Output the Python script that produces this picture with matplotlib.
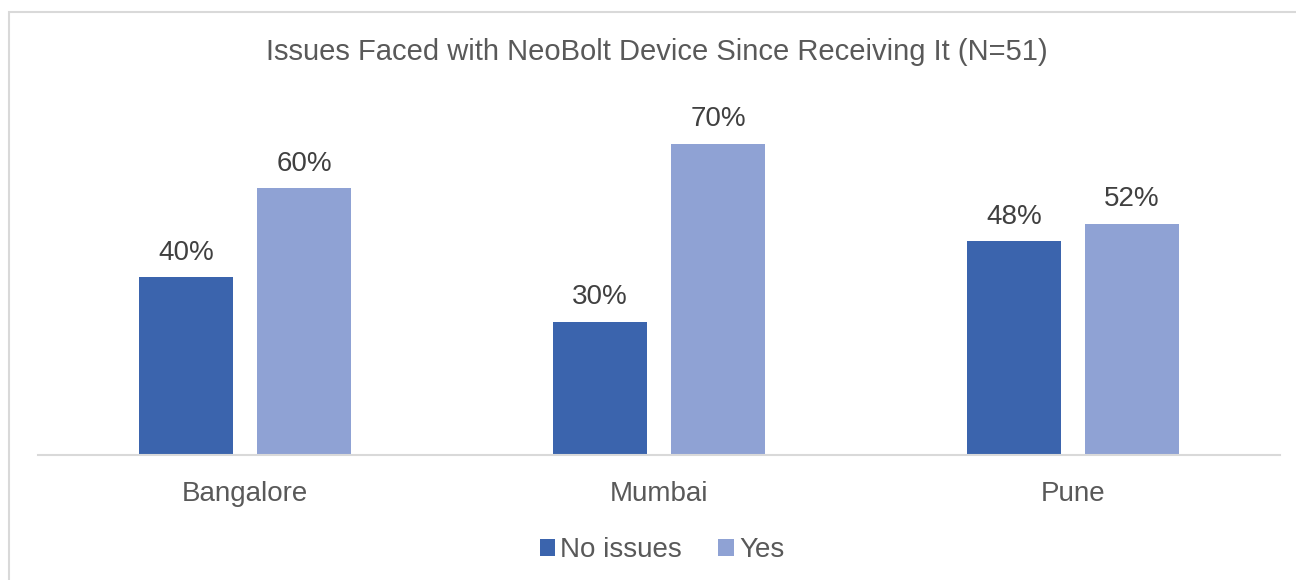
import matplotlib
matplotlib.use("Agg")
import matplotlib.pyplot as plt
from matplotlib.patches import Rectangle
import numpy as np

categories = ["Bangalore", "Mumbai", "Pune"]
no_issues = [0.40, 0.30, 0.48]
yes = [0.60, 0.70, 0.52]
series_names = ["No issues", "Yes"]
title = "Issues Faced with NeoBolt Device Since Receiving It (N=51)"

c_dark = "#3B64AD"
c_light = "#8FA2D4"
txt = "#595959"
lbl = "#404040"

plt.rcParams['font.family'] = ['Liberation Sans', 'DejaVu Sans']

W, H = 1296, 580
fig = plt.figure(figsize=(W / 100, H / 100), dpi=100)
ax = fig.add_axes([38 / W, 125 / H, 1242 / W, 356 / H])

x = np.arange(len(categories))
bw = 0.225
off = 0.1425
b1 = ax.bar(x - off, no_issues, bw, color=c_dark, label=series_names[0])
b2 = ax.bar(x + off, yes, bw, color=c_light, label=series_names[1])

for bars in (b1, b2):
    for r in bars:
        ax.annotate(f"{r.get_height()*100:.0f}%",
                    (r.get_x() + r.get_width() / 2, r.get_height()),
                    xytext=(0, 8), textcoords="offset points",
                    ha="center", va="bottom", fontsize=20, color=lbl)

ax.set_xlim(-0.5, 2.5)
ax.set_ylim(0, 0.8)
ax.set_xticks(x)
ax.set_xticklabels(categories, fontsize=20, color=txt)
ax.tick_params(axis="x", length=0, pad=19)
ax.set_yticks([])
for s in ("top", "right", "left"):
    ax.spines[s].set_visible(False)
ax.spines["bottom"].set_color("#D9D9D9")
ax.spines["bottom"].set_linewidth(1.5)

fig.text(657 / W, 1 - 52 / H, title, ha="center", va="center",
         fontsize=21, color=txt)

leg = fig.legend(handles=[b1, b2], loc="center", bbox_to_anchor=(662 / W, 1 - 550 / H),
                 ncol=2, frameon=False, fontsize=20, labelcolor=txt,
                 handlelength=0.55, handleheight=0.55, handletextpad=0.2,
                 columnspacing=1.3)

fig.patches.append(Rectangle((9 / W, -0.05), 1.1, 1 - 12 / H + 0.05,
                             transform=fig.transFigure, fill=False,
                             edgecolor="#D9D9D9", linewidth=1.5))

fig.savefig("out.png", dpi=100)
